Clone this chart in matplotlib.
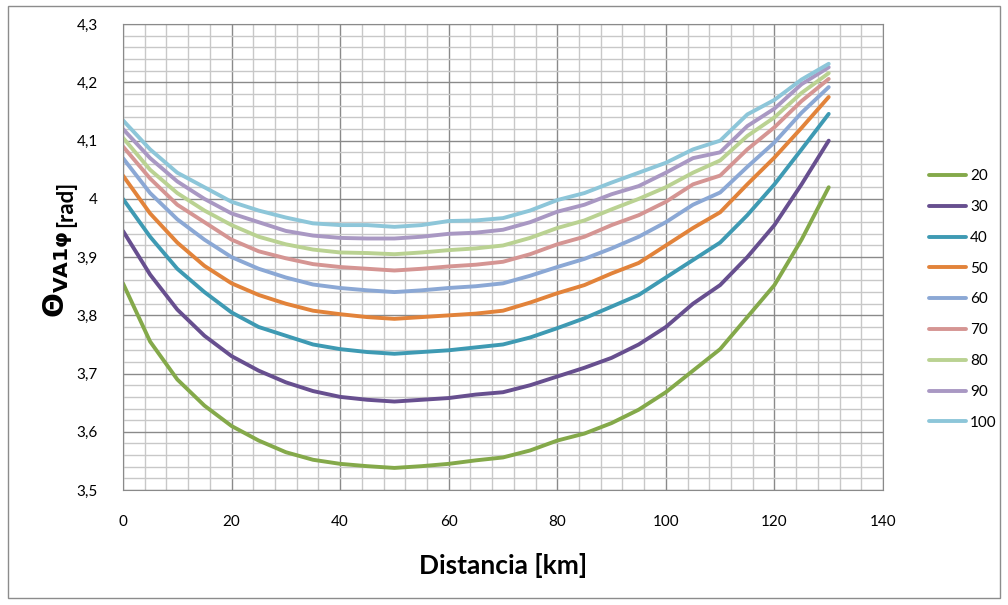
"""
Theta VA1phi vs distance, one curve per load level.
"""

import matplotlib
matplotlib.use("Agg")
import matplotlib.pyplot as plt
from matplotlib.patches import Rectangle
from matplotlib.ticker import FuncFormatter, MultipleLocator

plt.rcParams["font.family"] = ["Lato", "DejaVu Sans"]
plt.rcParams["mathtext.fontset"] = "dejavusans"

distance = [0, 5, 10, 15, 20, 25, 30, 35, 40, 45, 50, 55, 60, 65, 70,
            75, 80, 85, 90, 95, 100, 105, 110, 115, 120, 125, 130]

labels = ["20", "30", "40", "50", "60", "70", "80", "90", "100"]

theta_20 = [3.855, 3.755, 3.69, 3.645, 3.61, 3.585, 3.565, 3.552, 3.545, 3.541, 3.538, 3.541, 3.545, 3.551,
            3.556, 3.568, 3.585, 3.597, 3.615, 3.638, 3.668, 3.705, 3.742, 3.797, 3.852, 3.93, 4.02]
theta_30 = [3.945, 3.87, 3.81, 3.765, 3.73, 3.705, 3.685, 3.67, 3.66, 3.655, 3.652, 3.655, 3.658, 3.664,
            3.668, 3.68, 3.695, 3.71, 3.727, 3.75, 3.78, 3.82, 3.852, 3.9, 3.955, 4.025, 4.1]
theta_40 = [4.0, 3.935, 3.88, 3.84, 3.805, 3.78, 3.765, 3.75, 3.742, 3.737, 3.734, 3.737, 3.74, 3.745,
            3.75, 3.762, 3.778, 3.795, 3.815, 3.835, 3.865, 3.895, 3.925, 3.972, 4.025, 4.085, 4.146]
theta_50 = [4.04, 3.975, 3.925, 3.885, 3.855, 3.835, 3.82, 3.808, 3.802, 3.797, 3.794, 3.797, 3.8, 3.803,
            3.808, 3.822, 3.838, 3.852, 3.872, 3.89, 3.92, 3.95, 3.977, 4.025, 4.071, 4.122, 4.175]
theta_60 = [4.07, 4.01, 3.965, 3.93, 3.9, 3.88, 3.865, 3.853, 3.847, 3.843, 3.84, 3.843, 3.847, 3.85,
            3.855, 3.868, 3.883, 3.897, 3.915, 3.935, 3.96, 3.99, 4.011, 4.055, 4.097, 4.148, 4.192]
theta_70 = [4.09, 4.035, 3.99, 3.96, 3.93, 3.91, 3.898, 3.888, 3.883, 3.88, 3.877, 3.88, 3.884, 3.887,
            3.892, 3.905, 3.922, 3.935, 3.955, 3.972, 3.995, 4.025, 4.04, 4.085, 4.123, 4.168, 4.206]
theta_80 = [4.105, 4.05, 4.01, 3.98, 3.955, 3.935, 3.922, 3.913, 3.908, 3.907, 3.905, 3.908, 3.912, 3.915,
            3.92, 3.933, 3.95, 3.963, 3.982, 4.0, 4.02, 4.045, 4.066, 4.108, 4.14, 4.182, 4.216]
theta_90 = [4.12, 4.07, 4.03, 4.0, 3.975, 3.96, 3.945, 3.937, 3.933, 3.932, 3.932, 3.935, 3.94, 3.942,
            3.947, 3.96, 3.978, 3.99, 4.008, 4.022, 4.045, 4.07, 4.08, 4.125, 4.155, 4.197, 4.226]
theta_100 = [4.135, 4.085, 4.045, 4.02, 3.995, 3.98, 3.968, 3.958, 3.955, 3.955, 3.952, 3.955, 3.962, 3.963,
             3.967, 3.98, 3.998, 4.01, 4.028, 4.045, 4.062, 4.085, 4.1, 4.145, 4.17, 4.205, 4.232]

series = [theta_20, theta_30, theta_40, theta_50, theta_60, theta_70, theta_80, theta_90, theta_100]
colors = ["#84A94A", "#674F8F", "#3E9AB3", "#E2833A", "#8BA8D5",
          "#D59593", "#BAD292", "#A998C3", "#8DC6D9"]

fig = plt.figure(figsize=(10.08, 6.05), dpi=100)
ax = fig.add_axes([0.122, 0.19, 0.754, 0.77])

# Outer chart frame
fig.patches.append(Rectangle((0.008, 0.012), 0.984, 0.978, transform=fig.transFigure,
                             fill=False, edgecolor="#8c8c8c", linewidth=1.0))

for vals, lab, col in zip(series, labels, colors):
    ax.plot(distance, vals, color=col, linewidth=2.8, label=lab, solid_capstyle="round")

ax.set_xlim(0, 140)
ax.set_ylim(3.5, 4.3)
ax.xaxis.set_major_locator(MultipleLocator(20))
ax.xaxis.set_minor_locator(MultipleLocator(4))
ax.yaxis.set_major_locator(MultipleLocator(0.1))
ax.yaxis.set_minor_locator(MultipleLocator(0.02))

fmt = FuncFormatter(lambda v, _: f"{round(v, 2):g}".replace(".", ","))
ax.yaxis.set_major_formatter(fmt)

ax.grid(True, which="major", color="#8a8a8a", linewidth=1.0)
ax.grid(True, which="minor", color="#c8c8c8", linewidth=1.0)
ax.set_axisbelow(True)
ax.tick_params(which="both", length=0)
ax.tick_params(axis="y", pad=18, labelsize=11)
ax.tick_params(axis="x", pad=18, labelsize=11)
for sp in ax.spines.values():
    sp.set_color("#8a8a8a")

ax.set_xlabel("Distancia [km]", fontsize=19, fontweight="bold", labelpad=17)

# y label: big Theta with subscript, then "[rad]" placed right after it
theta_txt = fig.text(0.058, 0.474, r"$\mathbf{\Theta}_{\mathbf{VA1φ}}$", rotation=90,
                     fontsize=21, ha="center", va="bottom")
renderer = fig.canvas.get_renderer()
bb = theta_txt.get_window_extent(renderer).transformed(fig.transFigure.inverted())
fig.text(0.065, bb.y1 + 0.006, "[rad]", rotation=90, fontsize=16, fontweight="bold",
         ha="center", va="bottom")

fig.legend(loc="center left", bbox_to_anchor=(0.908, 0.505), frameon=False,
           fontsize=11, handlelength=2.4, handletextpad=0.3, labelspacing=1.1)

fig.savefig("out.png", dpi=100)
plt.close(fig)
